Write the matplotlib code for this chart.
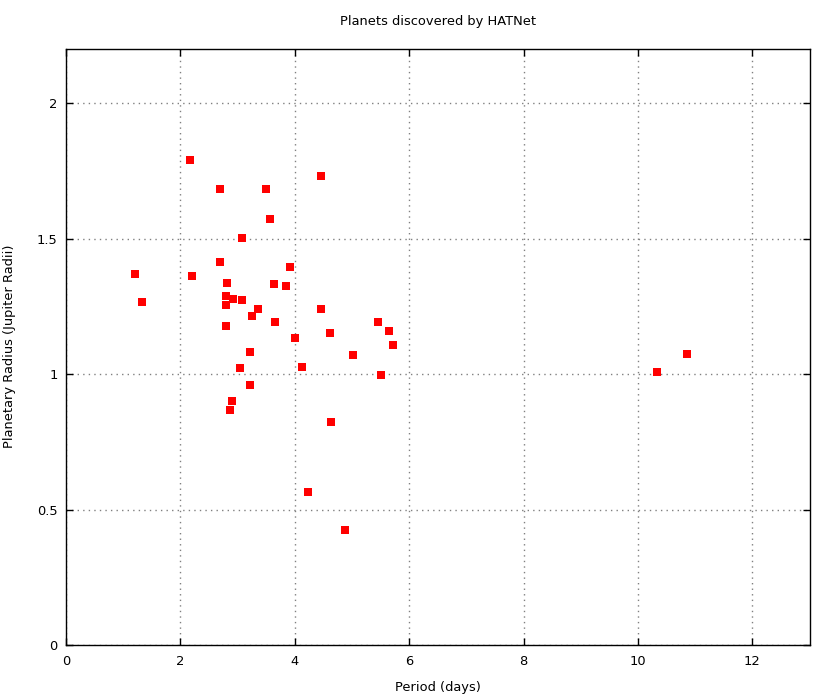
import matplotlib
matplotlib.use("Agg")
import matplotlib.pyplot as plt

# orbital period (days) and radius (Jupiter radii)
period = [1.21, 1.33, 2.16, 2.21, 2.70, 2.70, 2.79, 2.82, 2.79, 2.80,
          2.92, 3.07, 3.08, 3.49, 3.56, 3.64, 3.36, 3.26, 3.66, 3.92,
          3.85, 3.22, 3.05, 3.22, 2.91, 2.87, 4.01, 4.13, 4.46, 4.46,
          4.62, 4.64, 4.24, 4.88, 5.01, 5.46, 5.64, 5.72, 5.51, 10.34,
          10.86]
radius = [1.368, 1.265, 1.789, 1.361, 1.685, 1.412, 1.287, 1.338, 1.254, 1.176,
          1.279, 1.272, 1.501, 1.685, 1.571, 1.331, 1.242, 1.213, 1.191, 1.397,
          1.327, 1.080, 1.021, 0.958, 0.899, 0.866, 1.132, 1.025, 1.730, 1.242,
          1.150, 0.825, 0.563, 0.423, 1.069, 1.194, 1.158, 1.107, 0.995, 1.009,
          1.073]

xticks = [0, 2, 4, 6, 8, 10, 12]
yticks = [0, 0.5, 1, 1.5, 2]
ytick_labels = ["0", "0.5", "1", "1.5", "2"]

W, H = 833, 697
fs = 9.4
fig = plt.figure(figsize=(W / 100, H / 100), dpi=100)
ax = fig.add_axes([66 / W, 1 - 645 / H, (809.5 - 66) / W, (645 - 49) / H])

ax.plot(period, radius, "s", color="#ff0000", markersize=5.2,
        markeredgewidth=0, zorder=3)

ax.set_xlim(0, 13)
ax.set_ylim(0, 2.2)
ax.set_xticks(xticks)
ax.set_yticks(yticks)
ax.set_yticklabels(ytick_labels)

ax.grid(True, color="#808080", linestyle=(0, (1, 3)), linewidth=1)
ax.tick_params(direction="in", length=5, width=1, top=True, right=True,
               labelsize=fs, colors="black")
ax.tick_params(axis="x", pad=7)
ax.tick_params(axis="y", pad=6)
for sp in ax.spines.values():
    sp.set_linewidth(1)
    sp.set_color("black")

fig.text(438 / W, 1 - 22 / H, "Planets discovered by HATNet",
         ha="center", va="center", fontsize=fs)
fig.text(438 / W, 1 - 687 / H, "Period (days)",
         ha="center", va="center", fontsize=fs)
fig.text(10 / W, 1 - 346 / H, "Planetary Radius (Jupiter Radii)",
         ha="center", va="center", rotation=90, fontsize=fs)

plt.savefig("out.png", dpi=100)
plt.close(fig)
